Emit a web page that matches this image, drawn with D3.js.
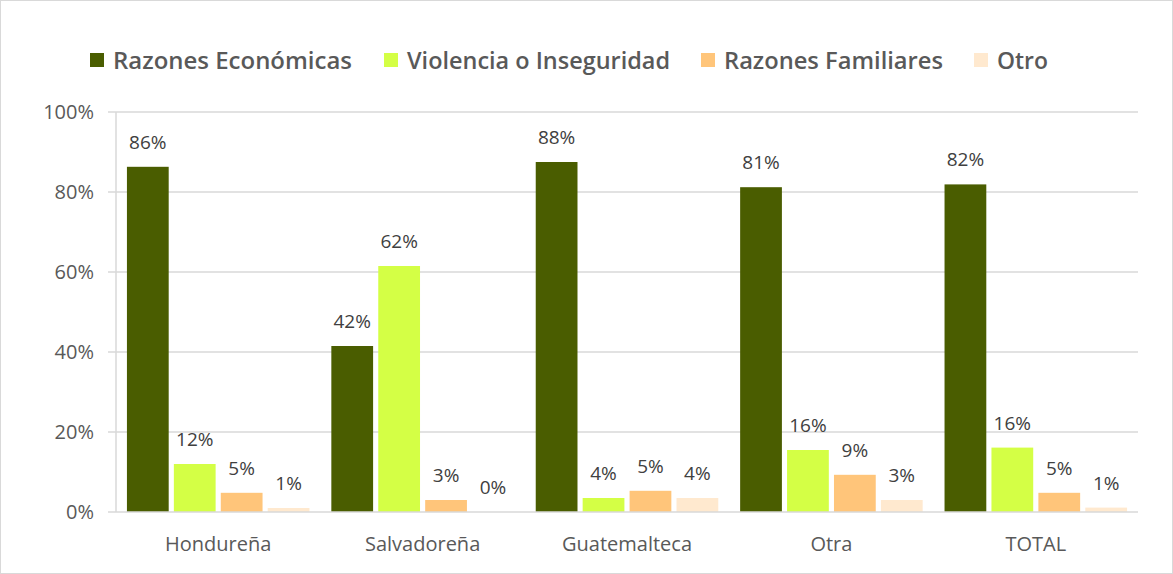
<!DOCTYPE html>
<html><head><meta charset="utf-8">
<script src="https://cdn.jsdelivr.net/npm/d3@7"></script>
<style>body{margin:0;background:#fff}svg{display:block}</style>
</head><body>
<script>
const categories = ["Hondureña","Salvadoreña","Guatemalteca","Otra","TOTAL"];
const seriesNames = ["Razones Económicas","Violencia o Inseguridad","Razones Familiares","Otro"];
const economicas = [0.863, 0.415, 0.875, 0.812, 0.819];
const violencia  = [0.120, 0.615, 0.035, 0.155, 0.161];
const familiares = [0.048, 0.030, 0.053, 0.093, 0.048];
const otro       = [0.010, 0.000, 0.035, 0.030, 0.011];
const labels = [
  ["86%","42%","88%","81%","82%"],
  ["12%","62%","4%","16%","16%"],
  ["5%","3%","5%","9%","5%"],
  ["1%","0%","4%","3%","1%"]
];
const yTicks = [0,0.2,0.4,0.6,0.8,1.0];
const colors = ["#4a5d00","#d4ff45","#ffc57a","#ffe9cf"];
const series = [economicas, violencia, familiares, otro];

const W=1173,H=574;
const font = "'Open Sans', sans-serif";
const svg = d3.select("body").append("svg").attr("width",W).attr("height",H);
svg.append("rect").attr("x",0.5).attr("y",0.5).attr("width",W-1).attr("height",H-1)
  .attr("fill","#fff").attr("stroke","#d9d9d9");

const m = {left:116, right:1138, top:112, bottom:512};
const x0 = d3.scaleBand().domain(categories).range([m.left,m.right]).paddingInner(0.107).paddingOuter(0.0535);
const x1 = d3.scaleBand().domain(d3.range(4)).range([0,x0.bandwidth()]).paddingInner(0.11);
const y = d3.scaleLinear().domain([0,1]).range([m.bottom,m.top]);

// grid
svg.append("g").selectAll("line").data(yTicks.filter(d=>d>0)).join("line")
  .attr("x1",108).attr("x2",m.right).attr("y1",d=>y(d)).attr("y2",d=>y(d))
  .attr("stroke","#d9d9d9").attr("stroke-width",1.5);
// y axis line
svg.append("line").attr("x1",m.left).attr("x2",m.left).attr("y1",m.top).attr("y2",m.bottom)
  .attr("stroke","#d9d9d9").attr("stroke-width",1.5);
// y labels
const yAxis = d3.axisLeft(y).tickValues(yTicks).tickFormat(d3.format(".0%")).tickSize(0).tickPadding(22);
const ya = svg.append("g").attr("transform",`translate(${m.left},0)`).call(yAxis);
ya.select(".domain").remove();
ya.selectAll("text").attr("font-family",font).attr("font-size",20).attr("fill","#595959");

// bars
const g = svg.append("g");
series.forEach((vals,si)=>{
  g.append("g").selectAll("rect").data(categories).join("rect")
    .attr("x",c=>x0(c)+x1(si)).attr("width",x1.bandwidth())
    .attr("y",(c,i)=>y(vals[i])).attr("height",(c,i)=>m.bottom-y(vals[i]))
    .attr("fill",colors[si]);
  g.append("g").selectAll("text").data(categories).join("text")
    .attr("x",c=>x0(c)+x1(si)+x1.bandwidth()/2)
    .attr("y",(c,i)=>y(vals[i])-18)
    .attr("text-anchor","middle").attr("font-family",font).attr("font-size",19)
    .attr("fill","#404040").text((c,i)=>labels[si][i]);
});

// x axis baseline
svg.append("line").attr("x1",108).attr("x2",m.right).attr("y1",m.bottom).attr("y2",m.bottom)
  .attr("stroke","#d9d9d9").attr("stroke-width",1.5);
const xAxis = d3.axisBottom(x0).tickSize(0).tickPadding(25);
const xa = svg.append("g").attr("transform",`translate(0,${m.bottom})`).call(xAxis);
xa.select(".domain").remove();
xa.selectAll("text").attr("font-family",font).attr("font-size",20).attr("fill","#595959");

// legend
const legX = [90,384,701,974];
const legW = [239,263,219,51];
const leg = svg.append("g");
seriesNames.forEach((n,i)=>{
  leg.append("rect").attr("x",legX[i]).attr("y",53).attr("width",14).attr("height",14).attr("fill",colors[i]);
  leg.append("text").attr("x",legX[i]+23).attr("y",69).attr("font-family",font).attr("font-weight",600)
    .attr("font-size",23).attr("fill","#595959")
    .attr("textLength",legW[i]).attr("lengthAdjust","spacingAndGlyphs").text(n);
});
</script>
</body></html>
